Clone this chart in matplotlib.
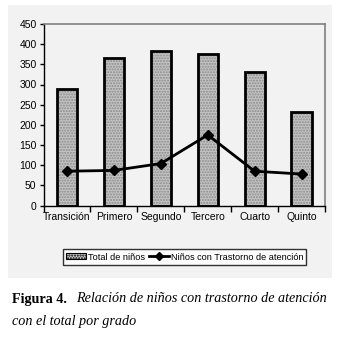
import matplotlib.pyplot as plt
from matplotlib.patches import Rectangle, Patch
from matplotlib.lines import Line2D

grados = ['Transición', 'Primero', 'Segundo', 'Tercero', 'Cuarto', 'Quinto']
total_ninos = [288, 366, 383, 376, 330, 232]
ninos_trastorno = [85, 87, 104, 175, 85, 78]
yticks = list(range(0, 451, 50))

plt.rcParams['font.family'] = ['Liberation Sans', 'DejaVu Sans']

fig = plt.figure(figsize=(3.39, 3.38), dpi=100)
W, H = 339, 338

# gray panel behind the chart
fig.patches.append(Rectangle((8 / W, 1 - 278 / H), 324 / W, 273 / H,
                             transform=fig.transFigure, facecolor='#f2f2f2',
                             edgecolor='none', zorder=-1))

ax = fig.add_axes([43.5 / W, 1 - 205.5 / H, 281.5 / W, 181.5 / H])
ax.set_facecolor('#f2f2f2')
ax.set_zorder(1)

x = list(range(len(grados)))
ax.bar(x, total_ninos, width=0.43, color='#c4c4c4', edgecolor='#8a8a8a',
       hatch='......', linewidth=0, zorder=2)
ax.bar(x, total_ninos, width=0.43, fill=False, edgecolor='black',
       linewidth=2, zorder=3)
ax.plot(x, ninos_trastorno, color='black', lw=2, marker='D', ms=5.5,
        zorder=4)

ax.set_xlim(-0.5, len(grados) - 0.5)
ax.set_ylim(0, 450)
ax.set_yticks(yticks)
ax.set_xticks(x)
ax.set_xticklabels(grados)
ax.set_xticks([i + 0.5 for i in range(-1, len(grados))], minor=True)
ax.tick_params(axis='x', which='major', length=0, pad=5, labelsize=7.5)
ax.tick_params(axis='x', which='minor', length=4, width=1, direction='out')
ax.tick_params(axis='y', length=3, width=1, direction='out', pad=2,
               labelsize=7.5)

for s in ['top', 'right']:
    ax.spines[s].set_color('#808080')
    ax.spines[s].set_linewidth(1.2)
for s in ['left', 'bottom']:
    ax.spines[s].set_color('black')
    ax.spines[s].set_linewidth(1)

# legend
handles = [Patch(facecolor='#c4c4c4', edgecolor='black', hatch='......',
                 linewidth=0.8),
           Line2D([0], [0], color='black', lw=2, marker='D', ms=4)]
leg = fig.legend(handles, ['Total de niños', 'Niños con Trastorno de atención'],
                 loc='center', bbox_to_anchor=(184.5 / W, 1 - 257 / H),
                 ncol=2, fontsize=6.6, frameon=True, fancybox=False,
                 handlelength=2.2, handletextpad=0.2, columnspacing=0.4,
                 borderpad=0.35, handleheight=0.6)
leg.get_frame().set_edgecolor('black')
leg.get_frame().set_linewidth(1)
leg.get_frame().set_facecolor('white')

# caption
fig.text(12 / W, 1 - 299 / H, 'Figura 4.', family='Liberation Serif',
         fontweight='bold', fontsize=10.2, va='center', ha='left')
fig.text(76 / W, 1 - 299 / H, 'Relación de niños con trastorno de atención',
         family='Liberation Serif', style='italic', fontsize=10.2,
         va='center', ha='left')
fig.text(12 / W, 1 - 321 / H, 'con el total por grado',
         family='Liberation Serif', style='italic', fontsize=10.2,
         va='center', ha='left')

fig.savefig('out.png', dpi=100)
